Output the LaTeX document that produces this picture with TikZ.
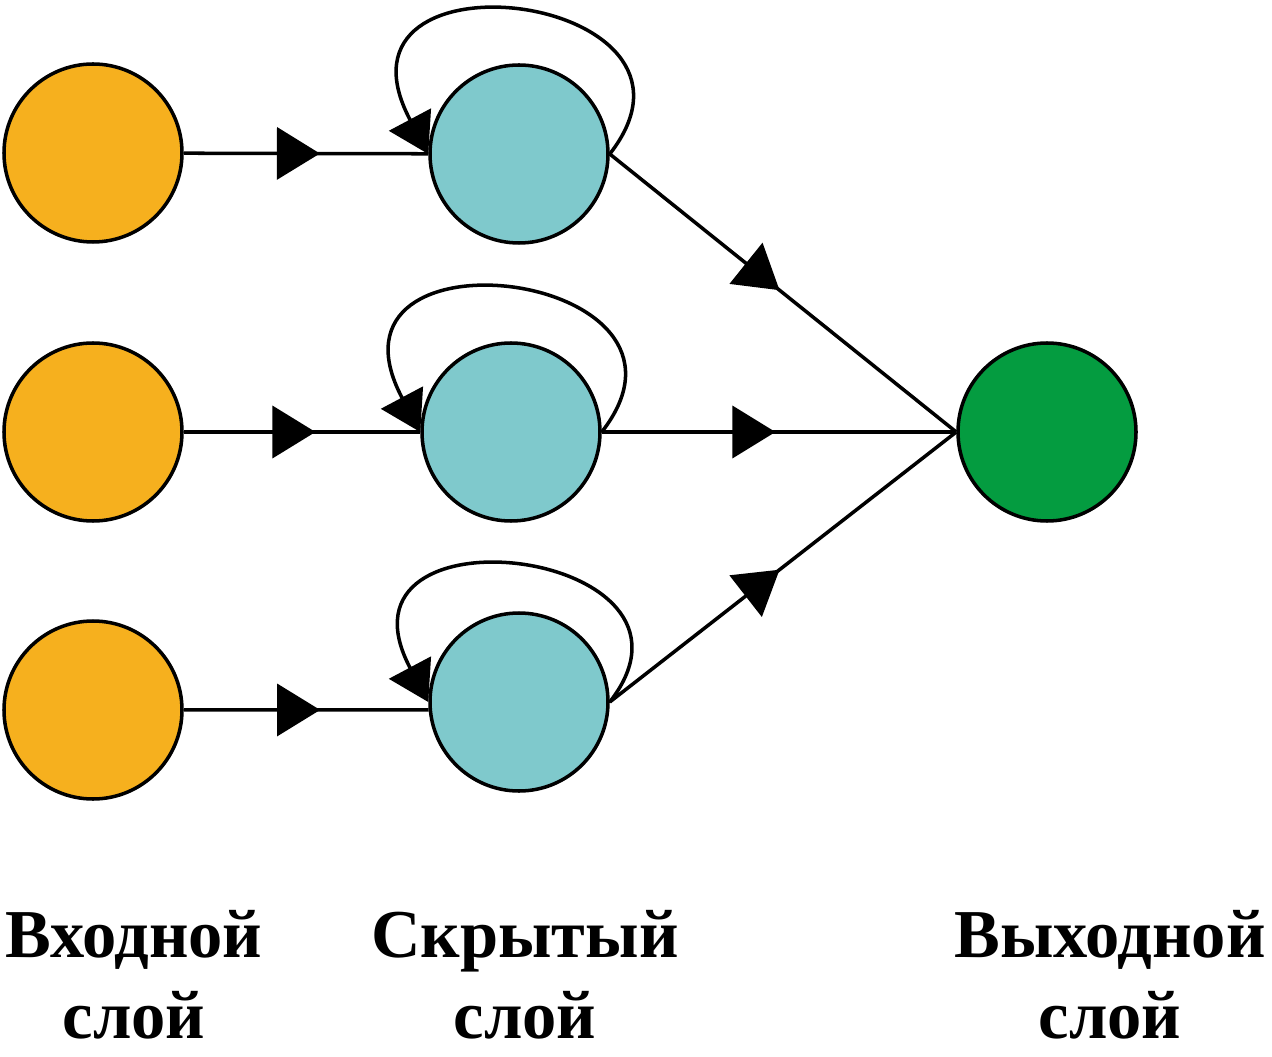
\documentclass[tikz,border=0pt]{standalone}
\usepackage{fontspec}
\setmainfont{Liberation Serif}
\usepackage{tikz}
\usetikzlibrary{arrows.meta, calc, decorations.markings}
\definecolor{inColor}{RGB}{246,176,30}
\definecolor{hidColor}{RGB}{127,201,204}
\definecolor{outColor}{RGB}{4,156,64}
\tikzset{
bigTip/.tip={Triangle[length=0.86cm,width=1.04cm]},
arrowMe/.style={postaction=decorate,
    decoration={markings, mark=at position #1 with {\arrow{bigTip}}
    } }}

\begin{document}
\begin{tikzpicture}[line width=2pt]
		\tikzset{vertex/.style = {shape=circle,draw, inner sep = 0pt, minimum size=3.56cm}}
		\tikzset{edge/.style = {arrowMe=0.49}}
		\tikzset{selfLoop/.style = {-{Triangle[length=0.78cm,width=0.94cm]}}}
		\tikzset{layerName/.style = {anchor=base, align=center, font=\bfseries\fontsize{39}{46}\selectfont}}

		\useasboundingbox (0,0) rectangle (25.44,-21.14);

		\node[vertex, fill=inColor] (I_1) at (1.86,-3.06) {};
		\node[vertex, fill=inColor] (I_2) at (1.86,-8.64) {};
		\node[vertex, fill=inColor] (I_3) at (1.86,-14.2) {};
		\node[vertex, fill=hidColor] (H_1) at (10.38,-3.08) {};
		\node[vertex, fill=hidColor] (H_2) at (10.22,-8.64) {};
		\node[vertex, fill=hidColor] (H_3) at (10.38,-14.04) {};
		\node[vertex, fill=outColor] (O_1) at (20.94,-8.64) {};

		\draw[arrowMe=0.557] (I_1) to (H_1);
		\draw[arrowMe=0.557] (I_2) to (H_2);
		\draw[arrowMe=0.557] (I_3) to (H_3.185);
		\draw[edge] (H_1.east) to (O_1.west);
		\draw[edge] (H_2.east) to (O_1.west);
		\draw[edge] (H_3.east) to (O_1.west);

		\draw[selfLoop] (H_1.east) to[out=52, in=118, out distance=4.1cm, in distance=4.84cm] (H_1.west);
		\draw[selfLoop] (H_2.east) to[out=52, in=118, out distance=4.1cm, in distance=4.84cm] (H_2.west);
		\draw[selfLoop] (H_3.east) to[out=52, in=118, out distance=3.9cm, in distance=4.6cm] (H_3.west);

		\node[layerName] (L_1) at (2.68,-20.76) {Входной\\слой};
		\node[layerName] (L_2) at (10.5,-20.76) {Скрытый\\слой};
		\node[layerName] (L_3) at (22.2,-20.76) {Выходной\\слой};

	\end{tikzpicture}
\end{document}
